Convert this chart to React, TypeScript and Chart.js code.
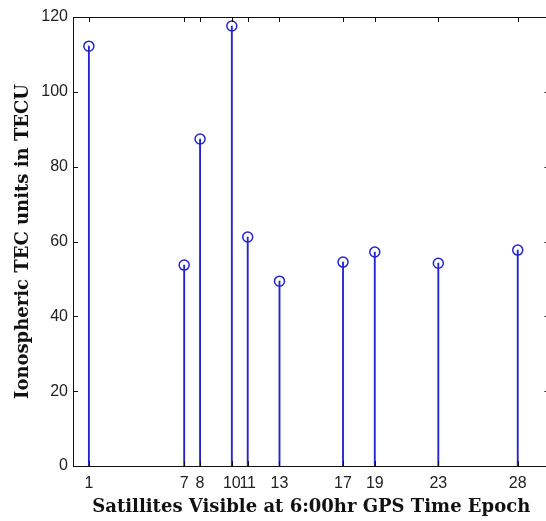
import React, { useEffect, useRef } from "react";
import { Chart, registerables } from "chart.js";

Chart.register(...registerables);

const satellites = [1, 7, 8, 10, 11, 13, 17, 19, 23, 28];
const tecValues = [112.2, 53.7, 87.4, 117.6, 61.2, 49.4, 54.5, 57.2, 54.2, 57.7];
const xTickLabels = ["1", "7", "8", "10", "11", "13", "17", "19", "23", "28"];
const yTicks = [0, 20, 40, 60, 80, 100, 120];
const xTitle = "Satillites Visible at 6:00hr GPS Time Epoch";
const yTitle = "Ionospheric TEC units in TECU";

const STEM = "#2424cc";
const TITLE_FONT = "'DejaVu Serif', 'Liberation Serif', serif";

const boxPlugin = {
  id: "matlabBox",
  afterDatasetsDraw(chart: any) {
    const { ctx, chartArea, scales } = chart;
    const { left, right, top, bottom } = chartArea;
    ctx.save();
    ctx.strokeStyle = "#111";
    ctx.lineWidth = 1;
    ctx.beginPath();
    ctx.rect(Math.round(left) + 0.5, Math.round(top) + 0.5, Math.round(right - left), Math.round(bottom - top));
    ctx.stroke();
    const tl = 5;
    ctx.beginPath();
    satellites.forEach((v) => {
      const x = Math.round(scales.x.getPixelForValue(v)) + 0.5;
      ctx.moveTo(x, bottom);
      ctx.lineTo(x, bottom - tl);
      ctx.moveTo(x, top);
      ctx.lineTo(x, top + tl);
    });
    yTicks.forEach((v) => {
      const y = Math.round(scales.y.getPixelForValue(v)) + 0.5;
      ctx.moveTo(left, y);
      ctx.lineTo(left + tl, y);
      ctx.moveTo(right, y);
      ctx.lineTo(right - tl, y);
    });
    ctx.stroke();
    ctx.restore();
  },
};

export default function App() {
  const ref = useRef<HTMLCanvasElement | null>(null);
  useEffect(() => {
    document.body.style.margin = "0";
    const canvas = ref.current;
    if (!canvas) return;
    const stems = satellites.map((x, i) => ({ x, y: tecValues[i] }));
    const chart = new Chart(canvas, {
      type: "bar",
      data: {
        datasets: [
          {
            type: "scatter" as any,
            data: stems,
            pointStyle: "circle",
            pointRadius: 5,
            pointBorderWidth: 1.5,
            borderColor: STEM,
            backgroundColor: "rgba(0,0,0,0)",
            order: 0,
          } as any,
          {
            type: "bar",
            data: stems,
            backgroundColor: STEM,
            barThickness: 1.2,
            order: 1,
          } as any,
        ],
      },
      options: {
        responsive: false,
        animation: false,
        devicePixelRatio: 1,
        layout: { padding: { left: 0, right: 3, top: 17, bottom: 0 } },
        plugins: { legend: { display: false }, tooltip: { enabled: false } },
        scales: {
          x: {
            type: "linear",
            min: 0,
            max: 30,
            offset: false,
            grid: { display: false, drawTicks: false },
            border: { display: false },
            afterBuildTicks: (scale: any) => {
              scale.ticks = satellites.map((v) => ({ value: v }));
            },
            afterFit: (scale: any) => {
              scale.height = 55;
            },
            ticks: {
              autoSkip: false,
              maxRotation: 0,
              padding: 8,
              color: "#222",
              font: { family: "'Liberation Sans', Arial, sans-serif", size: 16 },
              callback: (value: any) => {
                const i = satellites.indexOf(Number(value));
                return i >= 0 ? xTickLabels[i] : "";
              },
            },
            title: {
              display: true,
              text: xTitle,
              color: "#111",
              font: { family: TITLE_FONT, size: 18, weight: "bold" },
              padding: { top: 0, bottom: 3 },
            },
          },
          y: {
            type: "linear",
            min: 0,
            max: 120,
            grid: { display: false, drawTicks: false },
            border: { display: false },
            afterBuildTicks: (scale: any) => {
              scale.ticks = yTicks.map((v) => ({ value: v }));
            },
            afterFit: (scale: any) => {
              scale.width = 73;
            },
            ticks: {
              padding: 5,
              color: "#222",
              font: { family: "'Liberation Sans', Arial, sans-serif", size: 16 },
            },
            title: {
              display: true,
              text: yTitle,
              color: "#111",
              font: { family: TITLE_FONT, size: 18, weight: "bold" },
              padding: { top: 13, bottom: 0 },
            },
          },
        },
      },
      plugins: [boxPlugin],
    });
    return () => chart.destroy();
  }, []);
  return (
    <div style={{ position: "fixed", left: 0, top: 0, width: 546, height: 521, overflow: "hidden", background: "#fff" }}>
      <canvas ref={ref} width={556} height={521} style={{ width: 556, height: 521, display: "block" }} />
    </div>
  );
}
